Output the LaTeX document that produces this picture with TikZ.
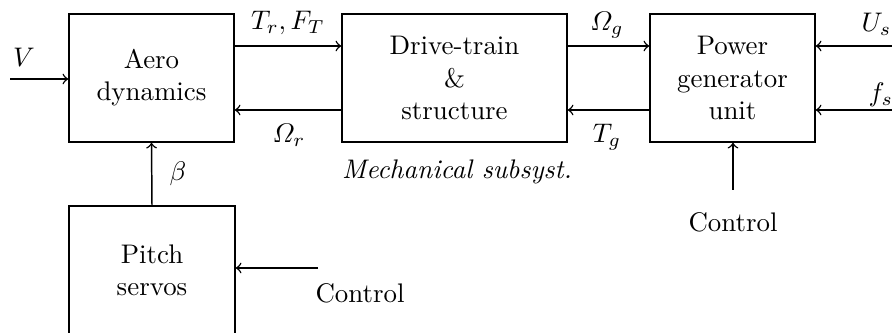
\documentclass[tikz,border=0pt]{standalone}
\usepackage{amsmath}
\begin{document}
\begin{tikzpicture}[x=0.372pt,y=-0.372pt,
  blk/.style={draw,line width=0.55pt,align=center,inner sep=0pt,minimum height=128*0.372pt},
  conn/.style={->,line width=0.55pt},
  lbl/.style={inner sep=0pt}]
\clip (0,0) rectangle (892,333);
\coordinate (up) at (0,46);
\coordinate (lo) at (0,110);
\node[blk,minimum width=165*0.372pt] (aero) at (151.5,78) {Aero\\dynamics};
\node[blk,minimum width=225*0.372pt] (drive) at (454.5,78) {Drive-train\\\&\\structure};
\node[blk,minimum width=165*0.372pt] (power) at (732.5,78) {Power\\generator\\unit};
\node[blk,minimum width=166*0.372pt] (pitch) at (152,270) {Pitch\\servos};
\coordinate (vin) at (10,79);
\coordinate (usin) at (895,46);
\coordinate (fsin) at (895,110);
\coordinate (pcin) at (733,190);
\coordinate (scin) at (318,268);
\draw[conn] (vin) -- (vin -| aero.west);
\draw[conn] (aero.east |- up) -- (drive.west |- up);
\draw[conn] (drive.west |- lo) -- (aero.east |- lo);
\draw[conn] (drive.east |- up) -- (power.west |- up);
\draw[conn] (power.west |- lo) -- (drive.east |- lo);
\draw[conn] (usin) -- (usin -| power.east);
\draw[conn] (fsin) -- (fsin -| power.east);
\draw[conn] (pcin) -- (pcin |- power.south);
\draw[conn] (pitch.north) -- (aero.south);
\draw[conn] (scin) -- (scin -| pitch.east);
\node[lbl] (lv) at (24,57) {$V$};
\node[lbl] (ltr) at (288,23) {$T_r, F_T$};
\node[lbl] (lor) at (289,135) {$\varOmega_r$};
\node[lbl] (log) at (607,25) {$\varOmega_g$};
\node[lbl] (ltg) at (607,137) {$T_g$};
\node[lbl,anchor=west] (lus) at (861,24) {$U_s$};
\node[lbl,anchor=west] (lfs) at (868,95) {$f_s$};
\node[lbl] (lb) at (178,174) {$\beta$};
\node[lbl] (lmech) at (457,172) {\textit{Mechanical subsyst.}};
\node[lbl] (lc1) at (733,222) {Control};
\node[lbl] (lc2) at (360,293) {Control};
\end{tikzpicture}
\end{document}
